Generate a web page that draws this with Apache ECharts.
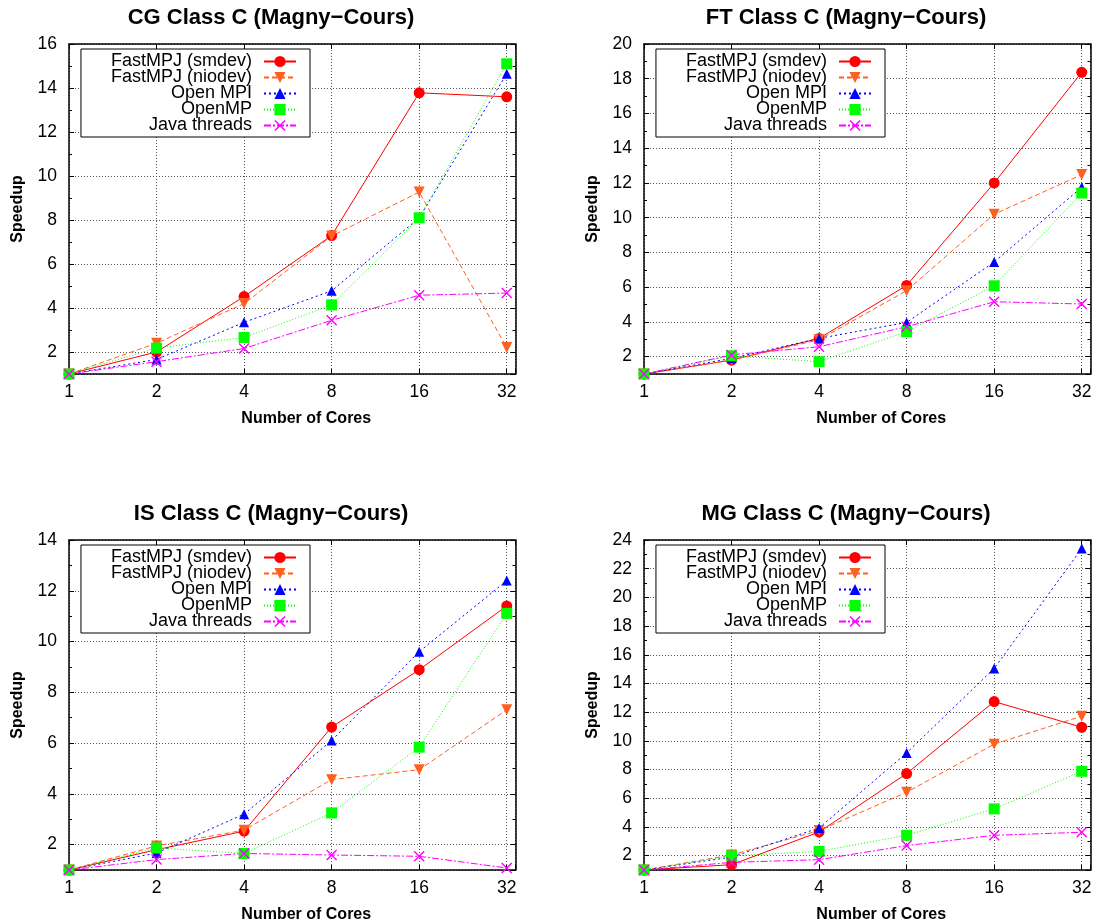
<!DOCTYPE html>
<html><head><meta charset="utf-8">
<script src="https://cdn.jsdelivr.net/npm/echarts@6/dist/echarts.min.js"></script>
<style>html,body{margin:0;padding:0;background:#fff}#c{width:1098px;height:924px}</style>
</head><body><div id="c"></div>
<script>
// ---------- DATA ----------
const cores = [1, 2, 4, 8, 16, 32];
const seriesNames = ['FastMPJ (smdev)', 'FastMPJ (niodev)', 'Open MPI', 'OpenMP', 'Java threads'];
const panelTitles = ['CG Class C (Magny\u2212Cours)', 'FT Class C (Magny\u2212Cours)', 'IS Class C (Magny\u2212Cours)', 'MG Class C (Magny\u2212Cours)'];
const xAxisTitle = 'Number of Cores';
const yAxisTitle = 'Speedup';
const yMaxValues = [16, 20, 14, 24];
const yMinValue = 1;
const yTickStep = 2;

const cgSmdev   = [1, 2.0, 4.52, 7.29, 13.78, 13.6];
const cgNiodev  = [1, 2.4, 4.2, 7.27, 9.27, 2.2];
const cgOpenMPI = [1, 1.66, 3.35, 4.78, 8.1, 14.65];
const cgOpenMP  = [1, 2.18, 2.66, 4.14, 8.1, 15.1];
const cgJava    = [1, 1.56, 2.16, 3.44, 4.58, 4.68];

const ftSmdev   = [1, 1.8, 3.05, 6.1, 12.0, 18.37];
const ftNiodev  = [1, 1.8, 2.97, 5.8, 10.2, 12.48];
const ftOpenMPI = [1, 1.9, 3.05, 3.97, 7.45, 11.75];
const ftOpenMP  = [1, 2.05, 1.71, 3.44, 6.08, 11.42];
const ftJava    = [1, 2.1, 2.57, 3.72, 5.16, 5.03];

const isSmdev   = [1, 1.8, 2.53, 6.63, 8.89, 11.4];
const isNiodev  = [1, 1.95, 2.57, 4.56, 4.95, 7.31];
const isOpenMPI = [1, 1.67, 3.2, 6.1, 9.6, 12.4];
const isOpenMP  = [1, 1.87, 1.65, 3.25, 5.84, 11.11];
const isJava    = [1, 1.41, 1.65, 1.59, 1.54, 1.08];

const mgSmdev   = [1, 1.37, 3.65, 7.72, 12.74, 10.95];
const mgNiodev  = [1, 2.05, 3.75, 6.42, 9.77, 11.72];
const mgOpenMPI = [1, 1.9, 3.93, 9.16, 15.05, 23.4];
const mgOpenMP  = [1, 1.98, 2.3, 3.42, 5.26, 7.88];
const mgJava    = [1, 1.53, 1.72, 2.7, 3.42, 3.63];

const panelData = [
  [cgSmdev, cgNiodev, cgOpenMPI, cgOpenMP, cgJava],
  [ftSmdev, ftNiodev, ftOpenMPI, ftOpenMP, ftJava],
  [isSmdev, isNiodev, isOpenMPI, isOpenMP, isJava],
  [mgSmdev, mgNiodev, mgOpenMPI, mgOpenMP, mgJava]
];

// ---------- STYLE / LAYOUT ----------
const FONT = '"Liberation Sans", Arial, Helvetica, sans-serif';
const panels = [
  {left: 69, top: 44}, {left: 644, top: 44},
  {left: 69, top: 540}, {left: 644, top: 540}
];
const PW = 446.5, PH = 330, XMAX = 34.3;
const colors = ['#ff0000', '#ff6020', '#0000ff', '#00ff00', '#ff00ff'];
const xPath = 'path://M0,0.9L0.9,0L5,4.1L9.1,0L10,0.9L5.9,5L10,9.1L9.1,10L5,5.9L0.9,10L0,9.1L4.1,5Z';
const symbols = ['circle', 'triangle', 'triangle', 'rect', xPath];
const symbolRotates = [0, 180, 0, 0, 0];
const symbolSizes = [11, 11, 10, 11, 11];
const lineTypes = ['solid', [5, 3], [2, 3], [1, 2], [7, 2, 2, 2]];

function isPow2(v) { const l = Math.log2(v); return Math.abs(l - Math.round(l)) < 1e-6; }
const xLabelFmt = v => isPow2(v) ? String(Math.round(v)) : '';
const yLabelFmt = v => (Math.abs(v - yMinValue) < 1e-9) ? '' : String(v);

const grids = [], xAxes = [], yAxes = [], series = [], titles = [], legends = [];
const gridLineStyle = {color: '#555', type: [1, 2], width: 1};
const axisLineStyle = {show: true, lineStyle: {color: '#000', width: 1.5}};
const tickStyle = {show: true, inside: true, length: 5, lineStyle: {color: '#000', width: 1}};
const minorTickStyle = {show: true, splitNumber: 2, length: 3, lineStyle: {color: '#000', width: 1}};

panels.forEach((p, i) => {
  grids.push({left: p.left, top: p.top, width: PW, height: PH, containLabel: false, show: false});
  xAxes.push({
    type: 'log', logBase: 2, gridIndex: i, min: 1, max: XMAX, position: 'bottom',
    name: xAxisTitle, nameLocation: 'middle', nameGap: 37,
    nameTextStyle: {fontFamily: FONT, fontSize: 16, fontWeight: 'bold', color: '#000', padding: [0, 0, 0, 28]},
    axisLine: axisLineStyle, axisTick: tickStyle, minorTick: {show: false},
    axisLabel: {show: true, formatter: xLabelFmt, margin: 9, fontFamily: FONT, fontSize: 17.5, color: '#000'},
    splitLine: {show: true, lineStyle: gridLineStyle}
  });
  xAxes.push({
    type: 'log', logBase: 2, gridIndex: i, min: 1, max: XMAX, position: 'top',
    axisLine: axisLineStyle, axisTick: tickStyle, axisLabel: {show: false}, splitLine: {show: false}
  });
  yAxes.push({
    type: 'value', gridIndex: i, min: yMinValue, max: yMaxValues[i], minInterval: yTickStep, maxInterval: yTickStep,
    position: 'left',
    name: yAxisTitle, nameLocation: 'middle', nameGap: 43,
    nameTextStyle: {fontFamily: FONT, fontSize: 16, fontWeight: 'bold', color: '#000'},
    axisLine: axisLineStyle, axisTick: tickStyle, minorTick: minorTickStyle,
    axisLabel: {show: true, formatter: yLabelFmt, margin: 12, fontFamily: FONT, fontSize: 17.5, color: '#000'},
    splitLine: {show: true, lineStyle: gridLineStyle}
  });
  yAxes.push({
    type: 'value', gridIndex: i, min: yMinValue, max: yMaxValues[i], minInterval: yTickStep, maxInterval: yTickStep,
    position: 'right',
    axisLine: axisLineStyle, axisTick: tickStyle, minorTick: minorTickStyle,
    axisLabel: {show: false}, splitLine: {show: false}
  });

  titles.push({
    text: panelTitles[i], left: p.left + 202, top: p.top - 37, textAlign: 'center', padding: 0,
    textStyle: {fontFamily: FONT, fontSize: 22, fontWeight: 'bold', color: '#000'}
  });

  legends.push({
    orient: 'vertical', align: 'right',
    right: 1098 - (p.left + 241), top: p.top + 5,
    itemWidth: 32, itemHeight: 14, itemGap: -2,
    padding: [3.5, 13, 2.5, 30],
    borderColor: '#000', borderWidth: 1, backgroundColor: '#fff',
    selectedMode: false,
    textStyle: {fontFamily: FONT, fontSize: 18, color: '#000', lineHeight: 15, padding: [0, 7, 0, 0]},
    data: seriesNames.slice()
  });

  seriesNames.forEach((nm, k) => {
    series.push({
      type: 'line', name: nm, xAxisIndex: 2 * i, yAxisIndex: 2 * i,
      data: cores.map((c, j) => [c, panelData[i][k][j]]),
      symbol: symbols[k], symbolSize: symbolSizes[k], symbolRotate: symbolRotates[k],
      itemStyle: {color: colors[k]},
      lineStyle: {color: colors[k], width: 1, type: lineTypes[k]},
      clip: false, animation: false, emphasis: {disabled: true}
    });
  });
});

const chart = echarts.init(document.getElementById('c'), null, {renderer: 'canvas'});
chart.setOption({
  animation: false,
  backgroundColor: '#fff',
  textStyle: {fontFamily: FONT},
  title: titles,
  legend: legends,
  grid: grids,
  xAxis: xAxes,
  yAxis: yAxes,
  series: series
});
</script>
</body></html>
